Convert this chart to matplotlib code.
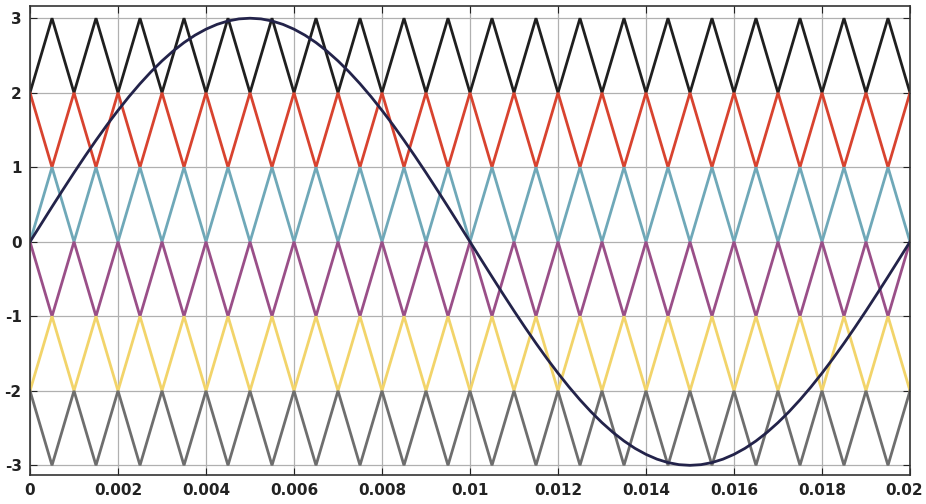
import numpy as np
import matplotlib
matplotlib.use('Agg')
from matplotlib import pyplot as plt
from matplotlib.transforms import ScaledTranslation

# carrier vertex times (one vertex every half carrier period, 1 kHz carrier)
vertex_t = [i * 0.0005 for i in range(41)]

# six level-shifted carriers: lower bound, upper bound, start at top?
carrier_low = [2, 1, 0, -1, -2, -3]
carrier_high = [3, 2, 1, 0, -1, -2]
carrier_start_high = [False, True, False, True, False, True]
carrier_colors = ['#1f1f1f', '#d8432f', '#6fa8b8', '#9a4f88', '#f2d46a', '#6e6e6e']

ref_t = [i * 0.00025 for i in range(81)]
ref_v = [0.000, 0.235, 0.469, 0.700, 0.927, 1.148, 1.362, 1.568, 1.763, 1.948,
         2.121, 2.281, 2.427, 2.558, 2.673, 2.772, 2.853, 2.917, 2.963, 2.991,
         3.000, 2.991, 2.963, 2.917, 2.853, 2.772, 2.673, 2.558, 2.427, 2.281,
         2.121, 1.948, 1.763, 1.568, 1.362, 1.148, 0.927, 0.700, 0.469, 0.235,
         0.000, -0.235, -0.469, -0.700, -0.927, -1.148, -1.362, -1.568, -1.763, -1.948,
         -2.121, -2.281, -2.427, -2.558, -2.673, -2.772, -2.853, -2.917, -2.963, -2.991,
         -3.000, -2.991, -2.963, -2.917, -2.853, -2.772, -2.673, -2.558, -2.427, -2.281,
         -2.121, -1.948, -1.763, -1.568, -1.362, -1.148, -0.927, -0.700, -0.469, -0.235,
         0.000]

x_ticks = [0, 0.002, 0.004, 0.006, 0.008, 0.01, 0.012, 0.014, 0.016, 0.018, 0.02]
x_labels = ['0', '0.002', '0.004', '0.006', '0.008', '0.01', '0.012', '0.014', '0.016', '0.018', '0.02']
y_ticks = [-3, -2, -1, 0, 1, 2, 3]
y_labels = ['-3', '-2', '-1', '0', '1', '2', '3']

fig = plt.figure(figsize=(9.26, 5.04), dpi=100)
ax = fig.add_axes([0.0324, 0.0575, 0.9503, 0.930])

for lo, hi, top, col in zip(carrier_low, carrier_high, carrier_start_high, carrier_colors):
    vals = []
    for i in range(len(vertex_t)):
        at_top = (i % 2 == 0) == top
        vals.append(hi if at_top else lo)
    ax.plot(vertex_t, vals, color=col, lw=2.0, solid_joinstyle='miter')

ax.plot(ref_t, ref_v, color='#23234a', lw=2.0)

ax.set_xlim(0, 0.02)
ax.set_ylim(-3.13, 3.16)
ax.set_xticks(x_ticks)
ax.set_xticklabels(x_labels)
ax.set_yticks(y_ticks)
ax.set_yticklabels(y_labels)
ax.grid(True, color='#b0b0b0', lw=0.9)
ax.set_axisbelow(True)
ax.tick_params(direction='in', length=5, labelsize=11, pad=6, colors='#222222',
               top=True, right=True)
for lbl in ax.get_xticklabels() + ax.get_yticklabels():
    lbl.set_fontweight('bold')
# keep the last x label inside the figure
last = ax.get_xticklabels()[-1]
last.set_transform(last.get_transform() + ScaledTranslation(-6 / 100, 0, fig.dpi_scale_trans))
for sp in ax.spines.values():
    sp.set_color('#333333')
    sp.set_linewidth(1.2)

plt.savefig('out.png', dpi=100)
